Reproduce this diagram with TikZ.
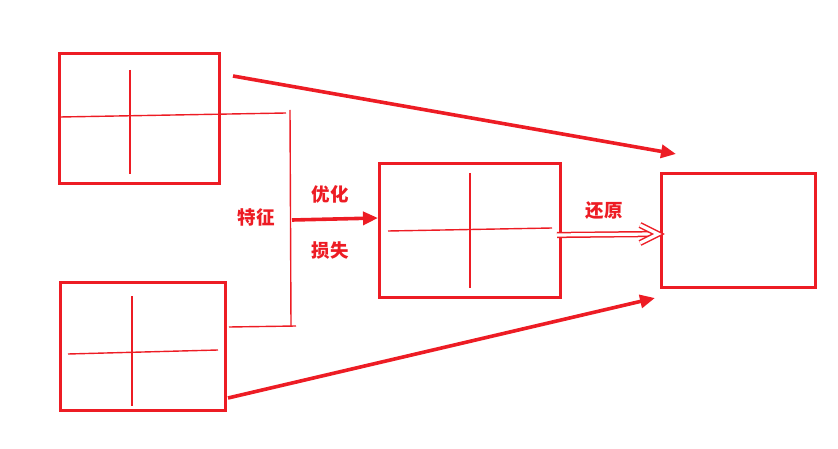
\documentclass[tikz,border=0pt]{standalone}
\usepackage{fontspec}
\newfontfamily\cjk{Noto Sans CJK SC}
\usetikzlibrary{arrows.meta}
\definecolor{pred}{RGB}{237,28,36}
\tikzset{every picture/.style={line width=0.75pt}}

\begin{document}
\begin{tikzpicture}[x=1pt,y=1pt,yscale=-1,xscale=1,
  box/.style={draw=pred, line width=2.6pt, inner sep=0pt, anchor=north west},
  crossline/.style={draw=pred, line width=1.4pt},
  fat/.style={draw=pred, line width=3.6pt, -{Triangle[length=15pt,width=13pt]}},
  hollow/.style={draw=pred, line width=1.5pt, double=white, double distance=3.2pt, line join=miter},
  lbl/.style={text=pred, font=\cjk\bfseries\fontsize{18.5}{18.5}\selectfont, inner sep=0.75pt}]
\useasboundingbox (0,0) rectangle (838,449);

% Boxes
\node [box, minimum width=160, minimum height=130] (imgA) at (58,52) {};
\node [box, minimum width=165, minimum height=128] (imgB) at (59,281) {};
\node [box, minimum width=181, minimum height=134] (imgC) at (378,162) {};
\node [box, minimum width=154, minimum height=114] (imgD) at (660,172) {};

% Crosses
\draw [crossline] (130,70) -- (130,174) ;
\draw [crossline] (60,117) -- (286,113) ;
\draw [crossline] (132,296) -- (132,406) ;
\draw [crossline] (68,354) -- (218,350) ;
\draw [crossline] (470,173) -- (470,288) ;
\draw [crossline] (388,231) -- (552,228) ;

% Bracket
\draw [crossline] (290,110) -- (291,326) ;
\draw [crossline] (229,327) -- (296,326) ;

% Free ends
\coordinate (feat) at (292,220) ;
\coordinate (srcA) at (233,76) ;
\coordinate (tipA) at (676,154) ;
\coordinate (srcB) at (228,398) ;
\coordinate (tipB) at (655,298) ;
\coordinate (outC) at (557,235) ;
\coordinate (inD) at (658,234) ;

% Arrows
\draw [fat] (feat) -- (imgC.west |- 0,218) ;
\draw [fat] (srcA) -- (tipA) ;
\draw [fat] (srcB) -- (tipB) ;
\draw [hollow] (outC) -- ([xshift=-6pt]inD) ;
\draw [hollow] ([xshift=-18pt,yshift=-9pt]inD) -- (inD) -- ([xshift=-18pt,yshift=9pt]inD) ;

% Text Node
\node [lbl] (feature) at (256,217) {特征};
\node [lbl] (optim) at (330,194) {优化};
\node [lbl] (loss) at (330,251) {损失};
\node [lbl] (restore) at (604,211) {还原};

\end{tikzpicture}
\end{document}
